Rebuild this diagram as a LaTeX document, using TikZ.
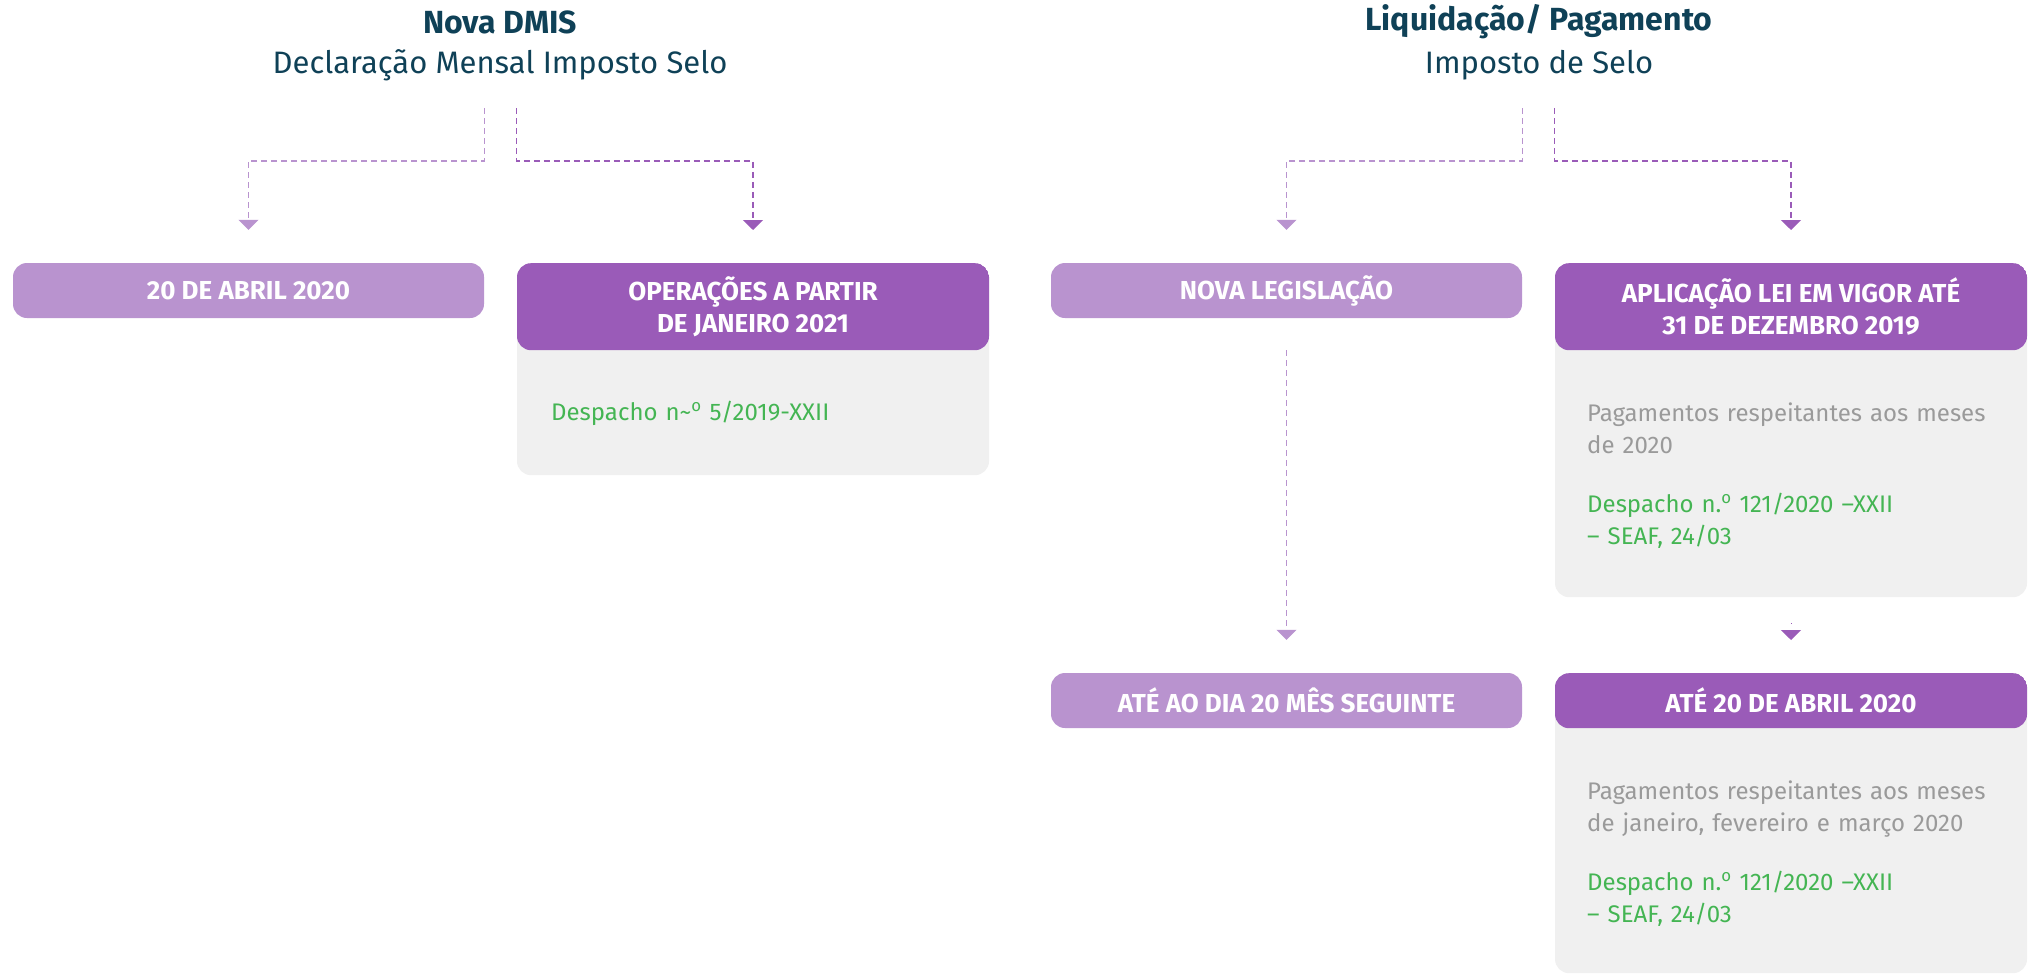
\documentclass[tikz,border=0pt]{standalone}
\usepackage{fontspec}
\setmainfont{Fira Sans}
\usepackage{tikz}
\usetikzlibrary{arrows.meta}

\definecolor{lpurple}{HTML}{B993CF}
\definecolor{dpurple}{HTML}{9A5BB8}
\definecolor{cardgray}{HTML}{F0F0F0}
\definecolor{ink}{HTML}{0F4157}
\definecolor{okgreen}{HTML}{44B553}
\definecolor{txtgray}{HTML}{9A9A9A}

\newcommand{\ordo}{\textsuperscript{o}}

\tikzset{
  title/.style={text=ink, font=\bfseries\fontsize{32}{36}\selectfont, inner sep=0pt},
  subtitle/.style={text=ink, font=\fontsize{31}{36}\selectfont, inner sep=0pt},
  light/.style={fill=lpurple, rounded corners=14pt, minimum width=471pt, minimum height=55pt,
    text=white, font=\bfseries\fontsize{26}{32}\selectfont, inner sep=0pt},
  card/.style={fill=cardgray, rounded corners=14pt, minimum width=472pt, inner sep=0pt, anchor=north,
    path picture={\fill[dpurple] (path picture bounding box.north west) rectangle ([yshift=-#1]path picture bounding box.north east);}},
  head/.style={text=white, font=\bfseries\fontsize{26}{32}\selectfont, align=center, inner sep=0pt},
  body/.style={text=txtgray, font=\fontsize{24}{32}\selectfont, align=left, text width=430pt, anchor=west, inner sep=0pt},
  lline/.style={draw=lpurple, line width=1.3pt, dash pattern=on 6pt off 4pt,
    -{Bar[width=0pt 0 0,line width=0pt,sep=7pt]Triangle[width=20pt,length=10pt]}},
  dline/.style={lline, draw=dpurple}
}

\begin{document}
\begin{tikzpicture}[x=1pt, y=-1pt]
                \useasboundingbox (0,0) rectangle (2028,974);

                % Titles
                \node[title] (t1) at (500,22) {Nova DMIS};
                \node[subtitle] (u1) at (500,65) {Declaração Mensal Imposto Selo};
                \node[title] (t2) at (1539,22) {Liquidação/ Pagamento};
                \node[subtitle] (u2) at (1539,65) {Imposto de Selo};

                % Boxes
                \node[light] (b1) at (248.5,290.5) {20 DE ABRIL 2020};
                \node[card=87pt, minimum height=212pt] (c2) at (753,263) {};
                \node[light] (b3) at (1286.5,290.5) {NOVA LEGISLAÇÃO};
                \node[card=87pt, minimum height=334pt] (c4) at (1791,263) {};
                \node[light] (b5) at (1286.5,700.5) {ATÉ AO DIA 20 MÊS SEGUINTE};
                \node[card=55pt, minimum height=300pt] (c6) at (1791,673) {};

                % Card texts
                \node[head] (h2) at ([yshift=-43.5pt]c2.north) {OPERAÇÕES A PARTIR\\DE JANEIRO 2021};
                \node[head] (h4) at ([yshift=-43.5pt]c4.north) {APLICAÇÃO LEI EM VIGOR ATÉ\\31 DE DEZEMBRO 2019};
                \node[head] (h6) at ([yshift=-27.5pt]c6.north) {ATÉ 20 DE ABRIL 2020};
                \node[body, text=okgreen] (d2) at (551,413) {Despacho n\textasciitilde\ordo{} 5/2019-XXII};
                \node[body] (d4) at (1587,476) {Pagamentos respeitantes aos meses\\de 2020\\[27pt]
                  \textcolor{okgreen}{Despacho n.\ordo{} 121/2020 –XXII}\\\textcolor{okgreen}{– SEAF, 24/03}};
                \node[body] (d6) at (1587,854) {Pagamentos respeitantes aos meses\\de janeiro, fevereiro e março 2020\\[27pt]
                  \textcolor{okgreen}{Despacho n.\ordo{} 121/2020 –XXII}\\\textcolor{okgreen}{– SEAF, 24/03}};

                % Start points
                \coordinate (s1) at (b1.east |- 0,108);
                \coordinate (s2) at (c2.west |- 0,108);
                \coordinate (s3) at (b3.east |- 0,108);
                \coordinate (s4) at (c4.west |- 0,108);
                \coordinate (s5) at ([yshift=-32pt]b3.south);

                % Connectors
                \draw[lline] (s1) -- ++(0,53) -| ([yshift=33pt]b1.north);
                \draw[dline] (s2) -- ++(0,53) -| ([yshift=33pt]c2.north);
                \draw[lline] (s3) -- ++(0,53) -| ([yshift=33pt]b3.north);
                \draw[dline] (s4) -- ++(0,53) -| ([yshift=33pt]c4.north);
                \draw[lline] (s5) -- ([yshift=33pt]b5.north);
                \draw[dline, dash pattern=on 0pt off 99pt] (c4.south) -- ([yshift=33pt]c6.north);
            \end{tikzpicture}
\end{document}
